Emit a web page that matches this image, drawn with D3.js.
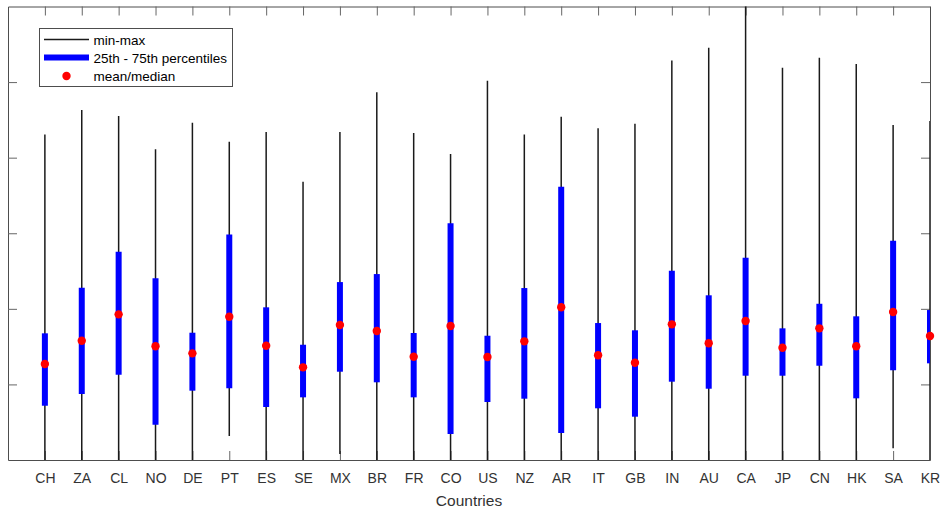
<!DOCTYPE html>
<html>
<head>
<meta charset="utf-8">
<script src="https://cdn.jsdelivr.net/npm/d3@7"></script>
<style>
  html, body { margin: 0; padding: 0; background: #fff; }
  svg { display: block; font-family: "Liberation Sans", Arial, sans-serif; }
</style>
</head>
<body>
<svg id="chart" width="942" height="506"></svg>
<script>
// Per-country distribution summaries (same units on the y axis)
const countries = ["CH","ZA","CL","NO","DE","PT","ES","SE","MX","BR","FR","CO","US","NZ","AR","IT","GB","IN","AU","CA","JP","CN","HK","SA","KR"];
const minVals = [0,0,0,0,0,3.17,0,0,0.79,0,0,0,0,0,0,0,0,0,0,0,0,0,0,1.55,0];
const maxVals = [43.08,46.30,45.50,41.10,44.62,42.10,43.39,36.81,43.39,48.64,43.25,40.48,50.17,43.08,45.41,43.88,44.48,52.87,54.54,63.0,51.89,53.21,52.38,44.31,44.84];
const q1Vals  = [7.18,8.73,11.28,4.67,9.17,9.48,7.01,8.29,11.68,10.28,8.29,3.44,7.67,8.11,3.57,6.84,5.73,10.36,9.43,11.15,11.15,12.47,8.16,11.87,12.79];
const q3Vals  = [16.76,22.79,27.55,24.03,16.84,29.85,20.20,15.25,23.54,24.60,16.80,31.31,16.44,22.75,36.15,18.12,17.16,25.04,21.79,26.76,17.42,20.67,19.01,29.01,19.84];
const midVals = [12.70,15.78,19.27,15.04,14.11,18.96,15.12,12.26,17.86,17.06,13.66,17.72,13.62,15.70,20.20,13.85,12.87,17.95,15.44,18.39,14.85,17.42,15.04,19.58,16.40];
const yTicks = [0,10,20,30,40,50,60];
const legendLabels = ["min-max","25th - 75th percentiles","mean/median"];

const rows = countries.map((c, i) => ({
  name: c, pos: i + 1,
  min: minVals[i], max: maxVals[i], q1: q1Vals[i], q3: q3Vals[i], mid: midVals[i]
}));

const svg = d3.select("#chart");
const plot = {left: 8, right: 930, top: 6.5, bottom: 460};

const x = d3.scaleLinear().domain([0, countries.length]).range([plot.left, plot.right]);
const y = d3.scaleLinear().domain([0, 60]).range([plot.bottom, plot.top]);

const axisColor = "#4d4d4d";
const textColor = "#333";
const tickLen = 9;

svg.append("defs").append("clipPath").attr("id", "plotClip")
  .append("rect")
  .attr("x", plot.left).attr("y", plot.top)
  .attr("width", plot.right - plot.left).attr("height", plot.bottom - plot.top);

// Axes (inward ticks on all four sides, box style)
const tickPositions = rows.map(d => d.pos);
const bottomAxis = d3.axisBottom(x).tickValues(tickPositions)
  .tickFormat((d, i) => countries[i]).tickSizeInner(-tickLen).tickSizeOuter(0).tickPadding(13);
const topAxis = d3.axisTop(x).tickValues(tickPositions)
  .tickFormat("").tickSizeInner(-tickLen).tickSizeOuter(0);
const leftAxis = d3.axisLeft(y).tickValues(yTicks)
  .tickFormat("").tickSizeInner(-tickLen).tickSizeOuter(0);
const rightAxis = d3.axisRight(y).tickValues(yTicks)
  .tickFormat("").tickSizeInner(-tickLen).tickSizeOuter(0);

function styleAxis(g) {
  g.select(".domain").attr("stroke", axisColor).attr("stroke-width", 1);
  g.selectAll(".tick line").attr("stroke", "#666").attr("stroke-width", 1);
  g.selectAll(".tick text").attr("fill", textColor)
    .attr("font-size", 14).attr("font-family", "Liberation Sans, Arial, sans-serif");
}

svg.append("g").attr("transform", `translate(0,${plot.bottom})`).call(bottomAxis).call(styleAxis);
svg.append("g").attr("transform", `translate(0,${plot.top})`).call(topAxis).call(styleAxis);
svg.append("g").attr("transform", `translate(${plot.left},0)`).call(leftAxis).call(styleAxis);
svg.append("g").attr("transform", `translate(${plot.right},0)`).call(rightAxis).call(styleAxis);

// Hide the end ticks that sit on the box corners
svg.selectAll(".tick").filter(d => d === 0 || d === 60).select("line").attr("opacity", 0);

svg.append("text")
  .attr("x", (plot.left + plot.right) / 2).attr("y", 506)
  .attr("text-anchor", "middle").attr("fill", textColor)
  .attr("font-size", 15.5).text("Countries");

const marks = svg.append("g").attr("clip-path", "url(#plotClip)");

// min-max whiskers
marks.selectAll("line.range").data(rows).join("line")
  .attr("class", "range")
  .attr("x1", d => x(d.pos)).attr("x2", d => x(d.pos))
  .attr("y1", d => y(d.min)).attr("y2", d => y(d.max))
  .attr("stroke", "#1a1a1a").attr("stroke-width", 1.5);

// interquartile bars
marks.selectAll("line.iqr").data(rows).join("line")
  .attr("class", "iqr")
  .attr("x1", d => x(d.pos)).attr("x2", d => x(d.pos))
  .attr("y1", d => y(d.q1)).attr("y2", d => y(d.q3))
  .attr("stroke", "#0000ff").attr("stroke-width", 6);

// centre markers
svg.append("g").selectAll("circle").data(rows).join("circle")
  .attr("cx", d => x(d.pos)).attr("cy", d => y(d.mid))
  .attr("r", 4.2).attr("fill", "#ff0000");

// Legend
const legend = svg.append("g");
legend.append("rect")
  .attr("x", 39.5).attr("y", 28.5).attr("width", 193).attr("height", 58)
  .attr("fill", "#fff").attr("stroke", "#4d4d4d").attr("stroke-width", 1);
const rowY = [39.5, 57.5, 76];
legend.append("line").attr("x1", 44).attr("x2", 89).attr("y1", rowY[0]).attr("y2", rowY[0])
  .attr("stroke", "#1a1a1a").attr("stroke-width", 1.5);
legend.append("line").attr("x1", 44).attr("x2", 89).attr("y1", rowY[1]).attr("y2", rowY[1])
  .attr("stroke", "#0000ff").attr("stroke-width", 6);
legend.append("circle").attr("cx", 66.5).attr("cy", rowY[2]).attr("r", 4.2).attr("fill", "#ff0000");
legend.selectAll("text").data(legendLabels).join("text")
  .attr("x", 93.5).attr("y", (d, i) => rowY[i] + 5)
  .attr("fill", "#000").attr("font-size", 13.5).text(d => d);
</script>
</body>
</html>
